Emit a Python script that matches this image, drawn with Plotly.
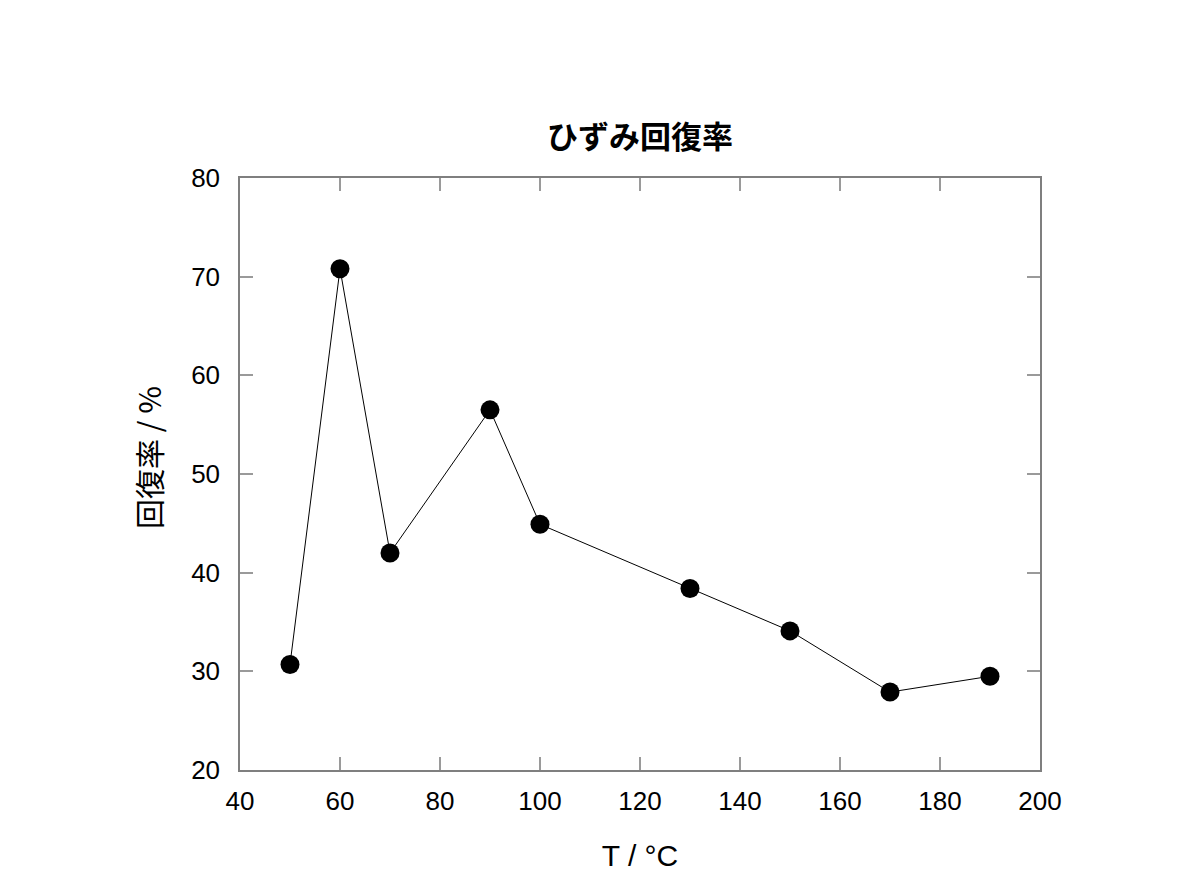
import plotly.graph_objects as go

temps = [50, 60, 70, 90, 100, 130, 150, 170, 190]
recovery = [30.7, 70.8, 42.0, 56.5, 44.9, 38.4, 34.1, 27.9, 29.5]

x_ticks = [40, 60, 80, 100, 120, 140, 160, 180, 200]
y_ticks = [20, 30, 40, 50, 60, 70, 80]

FONT = "Liberation Sans"
JP = "Noto Sans CJK JP"

fig = go.Figure()
fig.add_trace(go.Scatter(
    x=temps, y=recovery, mode="lines+markers",
    line=dict(color="black", width=1),
    marker=dict(color="black", size=19, line=dict(width=0)),
    showlegend=False, cliponaxis=False,
))

axis_common = dict(
    showline=True, linecolor="#7f7f7f", linewidth=1.5, mirror="ticks",
    ticks="inside", ticklen=13, tickwidth=1.5, tickcolor="#9a9a9a",
    showgrid=False, zeroline=False,
    tickfont=dict(family=FONT, size=26, color="black"),
)

fig.update_xaxes(range=[40, 200], tickvals=x_ticks, ticklabelstandoff=7,
                 title=dict(text="T / °C", font=dict(family=FONT, size=30, color="black"), standoff=30),
                 **axis_common)
fig.update_yaxes(range=[20, 80], tickvals=y_ticks, ticklabelstandoff=13,
                 **axis_common)

fig.add_annotation(
    text="回復率 / %", textangle=-90, showarrow=False,
    xref="paper", yref="paper", x=-0.115, y=0.527, xanchor="center", yanchor="middle",
    font=dict(family=JP, size=30, color="black"),
)

fig.update_layout(
    width=1200, height=888,
    margin=dict(l=232, r=168, t=170, b=126),
    paper_bgcolor="white", plot_bgcolor="white",
    title=dict(text="<b>ひずみ回復率</b>", x=632/1200, xanchor="center", y=1 - 129/888, yanchor="middle",
               font=dict(family=JP, size=31, color="black")),
)

fig.write_html("out.html")
